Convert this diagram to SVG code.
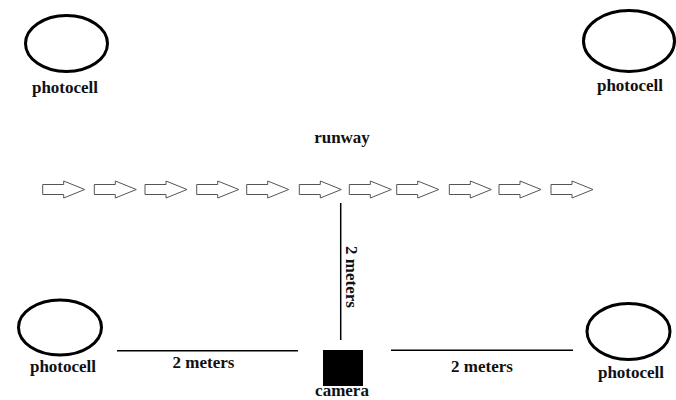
<svg xmlns="http://www.w3.org/2000/svg" width="676" height="400" viewBox="0 0 676 400">
<style>
.cell{fill:none;stroke:#000;stroke-width:3}
.lbl{font-family:"Liberation Serif","Times New Roman",serif;font-weight:bold;font-size:17px;fill:#111;text-anchor:middle}
.ln{stroke:#000;stroke-width:1.5;fill:none}
.arr{fill:#fff;stroke:#555;stroke-width:1}
</style>
<defs>
<path id="arrow" class="arr" d="M0,-5 H21 V-8.5 L42,0 L21,8.5 V5 H0 Z"/>
</defs>
<rect width="676" height="400" fill="#fff"/>
<g id="photocell-tl">
<ellipse class="cell" cx="66.5" cy="43.5" rx="41" ry="28"/>
<text class="lbl" x="65" y="93">photocell</text>
</g>
<g id="photocell-tr">
<ellipse class="cell" cx="629" cy="41" rx="45.5" ry="30.5"/>
<text class="lbl" x="630" y="91">photocell</text>
</g>
<g id="photocell-bl">
<ellipse class="cell" cx="60" cy="327.5" rx="41.5" ry="27.5"/>
<text class="lbl" x="63" y="372">photocell</text>
</g>
<g id="photocell-br">
<ellipse class="cell" cx="628.5" cy="331.5" rx="41.5" ry="28"/>
<text class="lbl" x="631" y="378">photocell</text>
</g>
<g id="runway">
<text class="lbl" x="342" y="143">runway</text>
<use href="#arrow" x="42.7" y="189.5"/>
<use href="#arrow" x="94.3" y="189.5"/>
<use href="#arrow" x="145" y="189.5"/>
<use href="#arrow" x="196.7" y="189.5"/>
<use href="#arrow" x="246.7" y="189.5"/>
<use href="#arrow" x="299.3" y="189.5"/>
<use href="#arrow" x="349.3" y="189.5"/>
<use href="#arrow" x="396.7" y="189.5"/>
<use href="#arrow" x="449.3" y="189.5"/>
<use href="#arrow" x="499" y="189.5"/>
<use href="#arrow" x="551" y="189.5"/>
</g>
<g id="camera">
<rect x="323" y="350" width="40" height="36" fill="#000"/>
<text class="lbl" x="342" y="396">camera</text>
</g>
<g id="connectors">
<line class="ln" x1="340.7" y1="203" x2="340.7" y2="340"/>
<line class="ln" x1="117" y1="350.7" x2="298" y2="350.7"/>
<line class="ln" x1="391" y1="350.3" x2="573" y2="350.3"/>
</g>
<g id="labels">
<text class="lbl" transform="translate(346,277) rotate(90)" x="0" y="0">2 meters</text>
<text class="lbl" x="203.5" y="368">2 meters</text>
<text class="lbl" x="482" y="372">2 meters</text>
</g>
</svg>
